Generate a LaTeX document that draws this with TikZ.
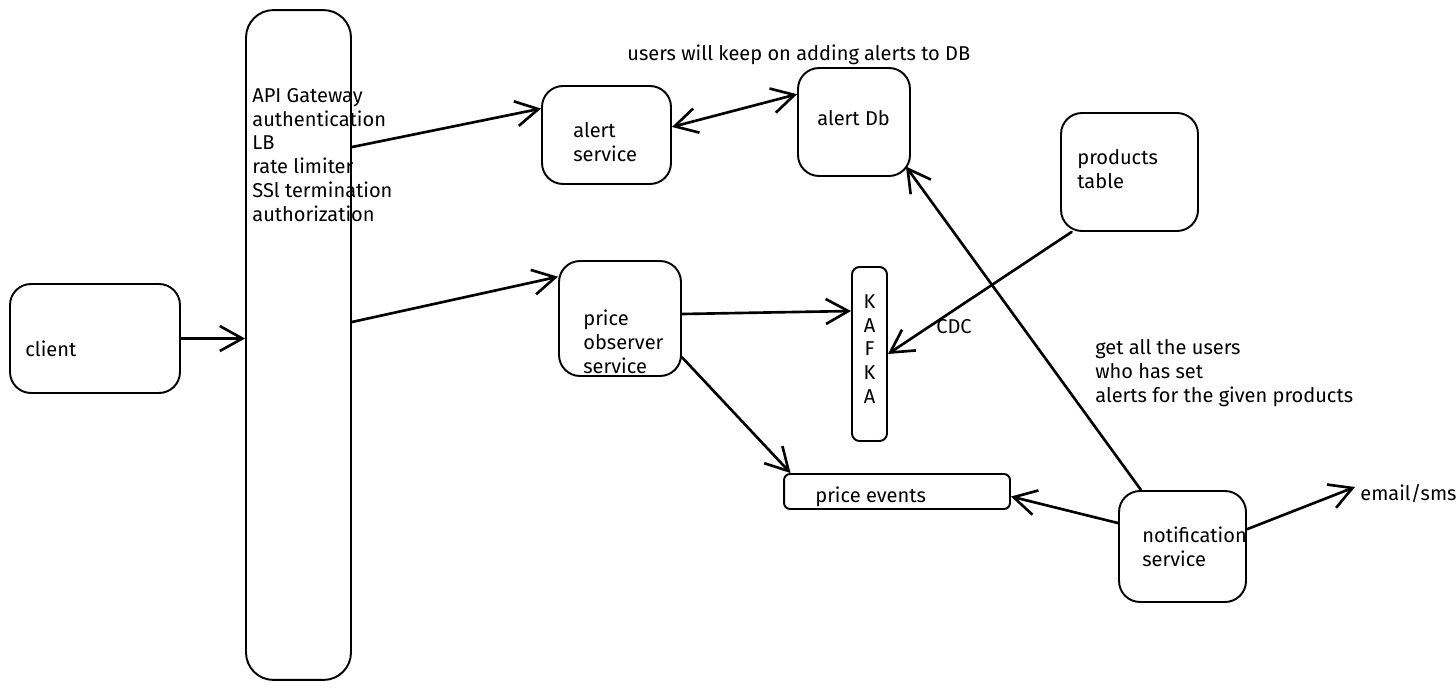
\documentclass[tikz,border=0pt]{standalone}
\usepackage{fontspec}
\setmainfont{Fira Sans}
\usetikzlibrary{arrows.meta, positioning}
\def\lnsep{13.6pt}

\begin{document}
\begin{tikzpicture}[x=0.02cm, y=-0.02cm, line cap=round, line join=round]
    \tikzstyle{box}=[draw=black, line width=1.1pt, rounded corners=0.42cm, inner sep=0pt]
    \tikzstyle{txt}=[inner sep=0pt, align=left, font=\fontsize{11.4}{\lnsep}\selectfont]
    \tikzstyle{link}=[draw=black, line width=1.5pt, -{Straight Barb[length=4.5mm,width=5mm]}]

    \useasboundingbox (0,0) rectangle (1456,690);

    % Draw the boxes
    \node[box, minimum width=3.4cm, minimum height=2.18cm] (client) at (95,338.5) {};
    \node[box, minimum width=2.1cm, minimum height=13.4cm, rounded corners=0.55cm] (gw) at (298.5,345) {};
    \node[box, minimum width=2.58cm, minimum height=1.96cm] (asvc) at (606.5,135) {};
    \node[box, minimum width=2.24cm, minimum height=2.16cm] (adb) at (854,122) {};
    \node[box, minimum width=2.74cm, minimum height=2.36cm] (prod) at (1129.5,172) {};
    \node[box, minimum width=2.44cm, minimum height=2.3cm] (pobs) at (620,318.5) {};
    \node[box, minimum width=0.7cm, minimum height=3.48cm, rounded corners=0.15cm] (kafka) at (869.5,354) {};
    \node[box, minimum width=4.52cm, minimum height=0.7cm, rounded corners=0.12cm] (pev) at (897,491.5) {};
    \node[box, minimum width=2.54cm, minimum height=2.22cm] (notif) at (1182.5,546.5) {};

    % Texts inside the boxes
    \node[txt, anchor=west] (client-t) at (25,349) {client};
    \node[txt, anchor=west] (gw-t) at (252,155) {API Gateway\\authentication\\LB\\rate limiter\\SSl termination\\authorization};
    \node[txt, anchor=west] (asvc-t) at (573,142.5) {alert\\service};
    \node[txt, anchor=west] (adb-t) at (817,118) {alert Db};
    \node[txt, anchor=west] (prod-t) at (1077,169) {products\\table};
    \node[txt, anchor=west] (pobs-t) at (583,342) {price\\observer\\service};
    \node[txt, align=center] (kafka-t) at (869.5,349) {K\\A\\F\\K\\A};
    \node[txt, anchor=west] (pev-t) at (815,497) {price events};
    \node[txt, anchor=west] (notif-t) at (1142,547) {notification\\service};

    % Free notes
    \node[txt, anchor=west] (email) at (1360,493) {email/sms};
    \node[txt, anchor=west] (note-db) at (627,55) {users will keep on adding alerts to DB};
    \node[txt, anchor=west] (cdc) at (936,327) {CDC};
    \node[txt, anchor=west] (note-users) at (1095,373) {get all the users\\who has set\\alerts for the given products};

    % Connect the boxes
    \draw[link] (client.east) -- (client.east -| gw.west);
    \draw[link] ([yshift=3.96cm]gw.east) -- (asvc.158);
    \draw[link] ([yshift=0.46cm]gw.east) -- (pobs.146);
    \draw[link, {Straight Barb[length=4.5mm,width=5mm]}-{Straight Barb[length=4.5mm,width=5mm]}] (asvc.7) -- (adb.154);
    \draw[link] ([yshift=0.09cm]pobs.east) -- ([yshift=0.86cm]kafka.west);
    \draw[link] (pobs.-32) -- ([xshift=0.15cm]pev.north west);
    \draw[link] (prod.226) -- (kafka.east);
    \draw[link] ([xshift=-0.83cm]notif.north) -- ([xshift=-0.1cm,yshift=0.1cm]adb.-41);
    \draw[link] (notif.160) -- ([yshift=-0.1cm]pev.east);
    \draw[link] (notif.15) -- ([xshift=-0.1cm,yshift=0.12cm]email.west);
\end{tikzpicture}
\end{document}
